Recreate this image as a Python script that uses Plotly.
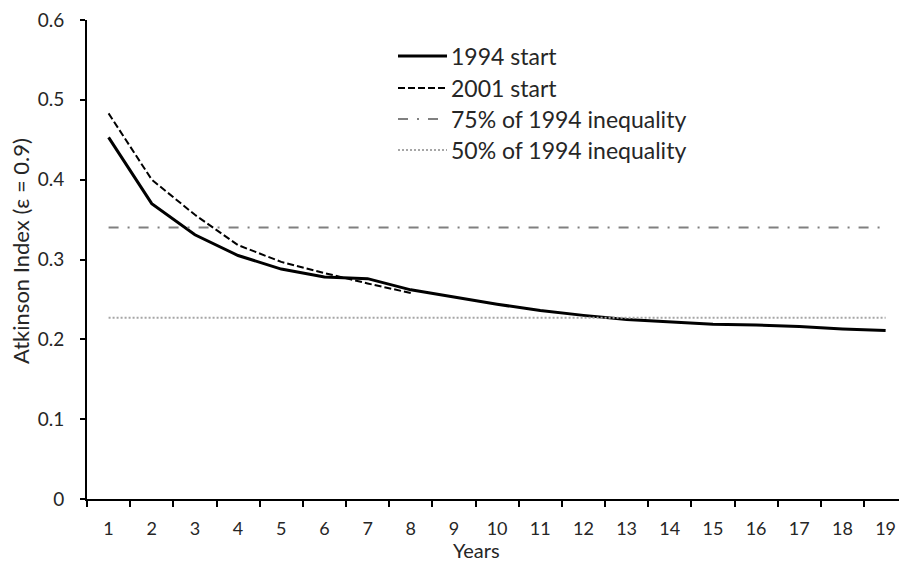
import plotly.graph_objects as go

# Years since start of the observation window
years = [str(i) for i in range(1, 20)]

# Atkinson index (epsilon = 0.9) by year, for the two starting cohorts
atkinson_1994 = [0.453, 0.370, 0.331, 0.305, 0.288, 0.278, 0.276, 0.262, 0.253,
                 0.244, 0.236, 0.230, 0.225, 0.222, 0.219, 0.218, 0.216, 0.213, 0.211]
atkinson_2001 = [0.483, 0.400, 0.356, 0.318, 0.297, 0.283, 0.270, 0.258]

# Reference levels relative to 1994 inequality
level_75 = 0.340
level_50 = 0.227

y_ticks = [0, 0.1, 0.2, 0.3, 0.4, 0.5, 0.6]
y_tick_text = ["0", "0.1", "0.2", "0.3", "0.4", "0.5", "0.6"]

FONT = "Lato"
TEXT = "#262626"
W, H = 899, 565
L, R, T, B = 87, 0, 20, 66

series = [
    dict(name="1994 start", x=years, y=atkinson_1994, color="#000000", width=3, dash="solid"),
    dict(name="2001 start", x=years[:len(atkinson_2001)], y=atkinson_2001, color="#000000", width=2, dash="7px,3px"),
    dict(name="75% of 1994 inequality", x=years, y=[level_75] * len(years), color="#808080", width=2, dash="10px,9px,2px,9px"),
    dict(name="50% of 1994 inequality", x=years, y=[level_50] * len(years), color="#a6a6a6", width=2, dash="2px,2px"),
]

fig = go.Figure()
for s in series:
    fig.add_trace(go.Scatter(
        x=s["x"], y=s["y"], mode="lines", name=s["name"], showlegend=False,
        line=dict(color=s["color"], width=s["width"], dash=s["dash"]),
    ))

# Pixel -> paper coordinate helpers for the legend and axis titles
pw = W - L - R
ph = H - T - B
def px_to_paper(px, py):
    return (px - L) / pw, (H - B - py) / ph

# Legend drawn as line samples plus text labels
legend_rows = [56, 88, 119, 150]
for s, row in zip(series, legend_rows):
    x0, yy = px_to_paper(398, row)
    x1, _ = px_to_paper(447, row)
    fig.add_shape(type="line", xref="paper", yref="paper", x0=x0, x1=x1, y0=yy, y1=yy,
                  line=dict(color=s["color"], width=s["width"], dash=s["dash"]))
    tx, _ = px_to_paper(449, row)
    fig.add_annotation(xref="paper", yref="paper", x=tx, y=yy, text=s["name"],
                       showarrow=False, xanchor="left", yanchor="middle",
                       font=dict(family=FONT, size=23, color=TEXT))

# Axis titles
ax, ay = px_to_paper(476, 550)
fig.add_annotation(xref="paper", yref="paper", x=ax, y=ay, text="Years",
                   showarrow=False, xanchor="center", yanchor="middle",
                   font=dict(family=FONT, size=20, color=TEXT))
bx, by = px_to_paper(20, 251)
fig.add_annotation(xref="paper", yref="paper", x=bx, y=by, text="Atkinson Index (ε = 0.9)",
                   textangle=-90, showarrow=False, xanchor="center", yanchor="middle",
                   font=dict(family=FONT, size=22, color=TEXT))

fig.update_layout(
    width=W, height=H,
    margin=dict(l=L, r=R, t=T, b=B, autoexpand=False),
    paper_bgcolor="white", plot_bgcolor="white",
    font=dict(family=FONT, size=18, color=TEXT),
    showlegend=False,
)
fig.update_xaxes(
    type="category", categoryorder="array", categoryarray=years,
    range=[-0.5, 18.31], tickson="boundaries",
    ticks="outside", ticklen=6, tickwidth=2, tickcolor="black",
    showline=True, linecolor="black", linewidth=2,
    showgrid=False, zeroline=False, ticklabelstandoff=12,
    tickfont=dict(family=FONT, size=18, color=TEXT),
)
fig.update_yaxes(
    range=[0, 0.6], tickmode="array", tickvals=y_ticks, ticktext=y_tick_text,
    ticks="outside", ticklen=5, tickwidth=2, tickcolor="black",
    showline=True, linecolor="black", linewidth=2,
    showgrid=False, zeroline=False, ticklabelstandoff=12,
    tickfont=dict(family=FONT, size=19, color=TEXT),
)

fig.write_html("out.html")
